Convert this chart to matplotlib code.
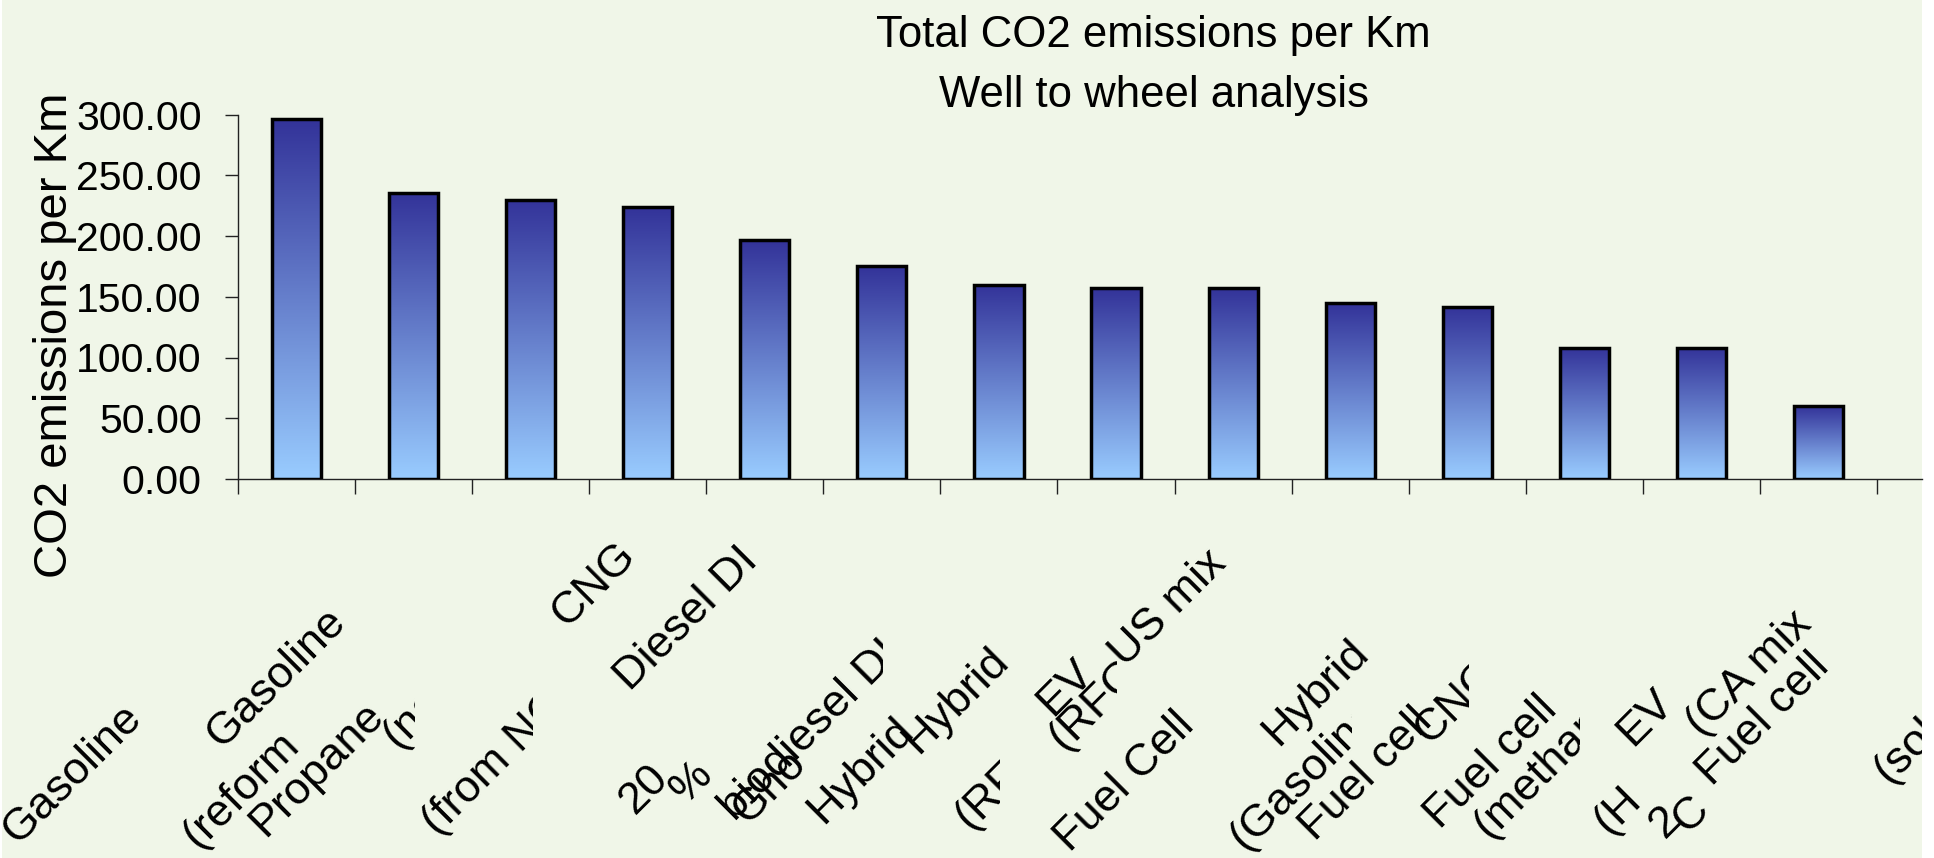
import matplotlib
matplotlib.use("Agg")
import matplotlib.pyplot as plt
import numpy as np
from matplotlib.patches import Rectangle
from matplotlib.transforms import Bbox
from matplotlib.colors import LinearSegmentedColormap

plt.rcParams["font.family"] = ["Liberation Sans", "DejaVu Sans"]

# ---------------- data ----------------
values = [296.0, 235.7, 229.8, 223.7, 196.5, 175.1, 159.7, 157.0, 157.0,
          144.5, 141.8, 108.1, 108.1, 59.8]
y_ticks = [0, 50, 100, 150, 200, 250, 300]
title_lines = ["Total CO2 emissions per Km", "Well to wheel analysis"]
y_label = "CO2 emissions per Km"

# category label text, as it appears (wrapped / clipped) in the reference
label_fragments = ["Gasoline", "Gasoline", "(reform", "Propane", "(na",
                   "(from NG)", "CNG", "Diesel DI", "20", "%",
                   "biodiesel DI", "Gho", "Hybrid", "Hybrid", "(RFG)",
                   "EV", "(RFG)", "US mix", "Fuel Cell", "Hybrid",
                   "(Gasoline)", "Fuel cell", "CNG", "Fuel cell",
                   "(methanol)", "EV", "(H", "2", "C", "(CA mix",
                   "Fuel cell", "(solar)"]

# ---------------- layout (pixels of the 1934x858 canvas) ----------------
W, H = 1934, 858
frag_x = [18, 222, 198, 265, 398, 438, 567, 630, 635, 685, 735, 748, 823,
          918, 970, 1052, 1064, 1125, 1070, 1278, 1245, 1315, 1430, 1440,
          1489, 1632, 1609, 1665, 1688, 1702, 1712, 1889]
frag_y = [845, 749, 850, 838, 750, 837, 628, 692, 815, 805, 822, 825, 825,
          755, 831, 717, 752, 668, 853, 747, 852, 842, 745, 830, 840, 747,
          836, 839, 834, 738, 787, 785]
frag_clip = [None, None, None, None, 415, 533, None, None, None, None, 883,
             None, None, None, 1000, None, 1117, None, None, None, 1352, None,
             1469, None, 1580, None, None, None, 1708, None, None, 1922]

bg = "#F0F6E8"
cat_w = 117.07
ax_left, ax_right = 238, 1922
y300, y0 = 114.5, 479.0

fig = plt.figure(figsize=(W / 100, H / 100), dpi=100, facecolor="white")
fig.patches.append(Rectangle((2 / W, 0), (1922 - 2) / W, 1, transform=fig.transFigure,
                             facecolor=bg, edgecolor="none", zorder=-10))

ax = fig.add_axes([ax_left / W, (H - y0) / H, (ax_right - ax_left) / W, (y0 - y300) / H])
ax.set_facecolor("none")

n = len(values)
xs = np.arange(n)
bars = ax.bar(xs, values, width=0.42, facecolor="none", edgecolor="black",
              linewidth=2.5, zorder=3)

cmap = LinearSegmentedColormap.from_list("grad", ["#99CCFF", "#333399"])
grad = np.linspace(0, 1, 256).reshape(-1, 1)
for b in bars:
    x0 = b.get_x()
    im = ax.imshow(grad, extent=[x0, x0 + b.get_width(), 0, b.get_height()],
                   origin="lower", aspect="auto", cmap=cmap, zorder=2,
                   interpolation="bilinear")
    im.set_clip_path(b)

ax.set_xlim(-0.5, -0.5 + (ax_right - ax_left) / cat_w)
ax.set_ylim(0, 300)

for s in ["top", "right"]:
    ax.spines[s].set_visible(False)
for s in ["left", "bottom"]:
    ax.spines[s].set_linewidth(1.0)
    ax.spines[s].set_color("#222222")

ax.set_xticks(np.arange(-0.5, n, 1.0))
ax.set_xticklabels([])
ax.tick_params(axis="x", direction="out", length=10.8, width=1.0, color="#222222")
ax.set_yticks(y_ticks)
ax.set_yticklabels([f"{v:.2f}" for v in y_ticks], fontsize=29.5)
ax.tick_params(axis="y", direction="out", length=9.6, width=1.0, pad=16.5, color="#222222")

# titles
fig.text(1153 / W, 1 - 46.7 / H, title_lines[0], ha="center", va="baseline", fontsize=31.5)
fig.text(1154 / W, 1 - 107 / H, title_lines[1], ha="center", va="baseline", fontsize=31.5)

# y label
fig.text(55 / W, 1 - 335 / H, y_label, rotation=90, ha="center", va="center", fontsize=34)

# category labels
for s, x, y, c in zip(label_fragments, frag_x, frag_y, frag_clip):
    t = fig.text(x / W, 1 - y / H, s, rotation=45, rotation_mode="anchor",
                 ha="left", va="baseline", fontsize=32.5)
    clipx = c if c is not None else 1922
    t.set_clip_box(Bbox.from_extents(0, 0, clipx, H))
    t.set_clip_on(True)

fig.savefig("out.png", dpi=100, facecolor=fig.get_facecolor())
